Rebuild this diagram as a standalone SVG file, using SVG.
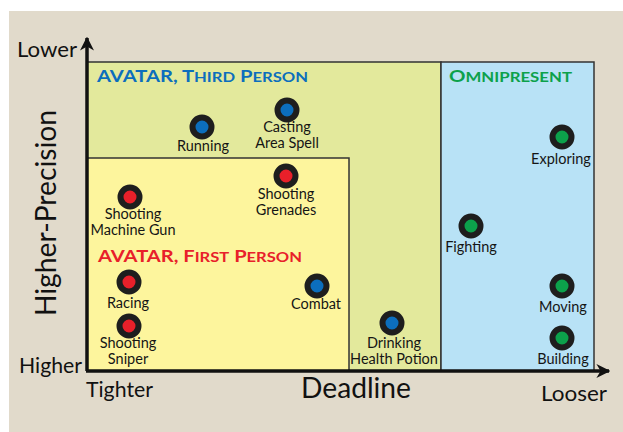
<svg xmlns="http://www.w3.org/2000/svg" width="623" height="432" viewBox="0 0 623 432">
<defs>
<marker id="arr" viewBox="0 0 10 10" refX="9" refY="5" markerWidth="4" markerHeight="4" markerUnits="strokeWidth" orient="auto">
<path d="M0,0 L10,5 L0,10 L3,5 z" fill="#111"/>
</marker>
</defs>
<style>
.zone{stroke:#333;stroke-width:1.5}
.axis{stroke:#111;stroke-width:3.5;fill:none}
.dot{stroke:#1e1e1e;stroke-width:6}
.blue{fill:#0c6ebd}
.red{fill:#e8202a}
.green{fill:#0ca14b}
.lbl{font-family:Lato,"Liberation Sans",sans-serif;font-size:14.5px;fill:#151515;text-anchor:middle}
.ax{font-family:Lato,"Liberation Sans",sans-serif;font-size:21px;fill:#111}
.big{font-family:Lato,"Liberation Sans",sans-serif;font-size:29px;fill:#111}
.title{font-family:Lato,"Liberation Sans",sans-serif;font-weight:bold;font-size:17px}
.sc{font-size:14px}
</style>
<rect x="9" y="11" width="614" height="421" fill="#e1dacb"/>
<g id="zone-third">
<rect class="zone" x="87" y="62" width="354" height="309" fill="#e3e99c"/>
<text class="title" x="97" y="82" fill="#0c6ebd" textLength="211" lengthAdjust="spacingAndGlyphs">AVATAR, T<tspan class="sc">HIRD</tspan> P<tspan class="sc">ERSON</tspan></text>
</g>
<g id="zone-omni">
<rect class="zone" x="441" y="62" width="153" height="309" fill="#b8e2f6"/>
<text class="title" x="449" y="82" fill="#0ca14b" textLength="123" lengthAdjust="spacingAndGlyphs">O<tspan class="sc">MNIPRESENT</tspan></text>
</g>
<g id="zone-first">
<rect class="zone" x="87" y="158" width="262" height="213" fill="#fdf59d"/>
<text class="title" x="98" y="262" fill="#e8202a" textLength="204" lengthAdjust="spacingAndGlyphs">AVATAR, F<tspan class="sc">IRST</tspan> P<tspan class="sc">ERSON</tspan></text>
</g>
<g id="connectors">
<line class="axis" x1="87" y1="371" x2="87" y2="38" marker-end="url(#arr)"/>
<line class="axis" x1="86" y1="371" x2="609" y2="371" marker-end="url(#arr)"/>
</g>
<g id="axis-labels">
<text class="ax" x="17" y="57" textLength="60" lengthAdjust="spacingAndGlyphs">Lower</text>
<text class="ax" x="19" y="373" textLength="63" lengthAdjust="spacingAndGlyphs">Higher</text>
<text class="ax" x="86" y="397" textLength="67" lengthAdjust="spacingAndGlyphs">Tighter</text>
<text class="ax" x="541" y="401" textLength="66" lengthAdjust="spacingAndGlyphs">Looser</text>
<text class="big" x="301" y="398" textLength="110" lengthAdjust="spacingAndGlyphs">Deadline</text>
<text class="big" transform="translate(56,316) rotate(-90)" textLength="206" lengthAdjust="spacingAndGlyphs">Higher-Precision</text>
</g>
<g id="running"><circle class="dot blue" cx="202" cy="127" r="9.5"/><text class="lbl" x="203" y="151">Running</text></g>
<g id="casting"><circle class="dot blue" cx="287" cy="110" r="9.5"/><text class="lbl" x="287" y="132">Casting</text><text class="lbl" x="287" y="148">Area Spell</text></g>
<g id="grenades"><circle class="dot red" cx="286" cy="176" r="9.5"/><text class="lbl" x="286" y="199">Shooting</text><text class="lbl" x="286" y="215">Grenades</text></g>
<g id="machinegun"><circle class="dot red" cx="130" cy="197" r="9.5"/><text class="lbl" x="133" y="219">Shooting</text><text class="lbl" x="133" y="235">Machine Gun</text></g>
<g id="racing"><circle class="dot red" cx="129" cy="282" r="9.5"/><text class="lbl" x="128" y="308">Racing</text></g>
<g id="sniper"><circle class="dot red" cx="129" cy="326" r="9.5"/><text class="lbl" x="128" y="348">Shooting</text><text class="lbl" x="128" y="364">Sniper</text></g>
<g id="combat"><circle class="dot blue" cx="317" cy="286" r="9.5"/><text class="lbl" x="316" y="309">Combat</text></g>
<g id="potion"><circle class="dot blue" cx="392" cy="323" r="9.5"/><text class="lbl" x="394" y="348">Drinking</text><text class="lbl" x="394" y="364">Health Potion</text></g>
<g id="fighting"><circle class="dot green" cx="471" cy="226" r="9.5"/><text class="lbl" x="471" y="252">Fighting</text></g>
<g id="exploring"><circle class="dot green" cx="562" cy="137" r="9.5"/><text class="lbl" x="561" y="164">Exploring</text></g>
<g id="moving"><circle class="dot green" cx="562" cy="286" r="9.5"/><text class="lbl" x="563" y="312">Moving</text></g>
<g id="building"><circle class="dot green" cx="562" cy="338" r="9.5"/><text class="lbl" x="563" y="364">Building</text></g>
</svg>
